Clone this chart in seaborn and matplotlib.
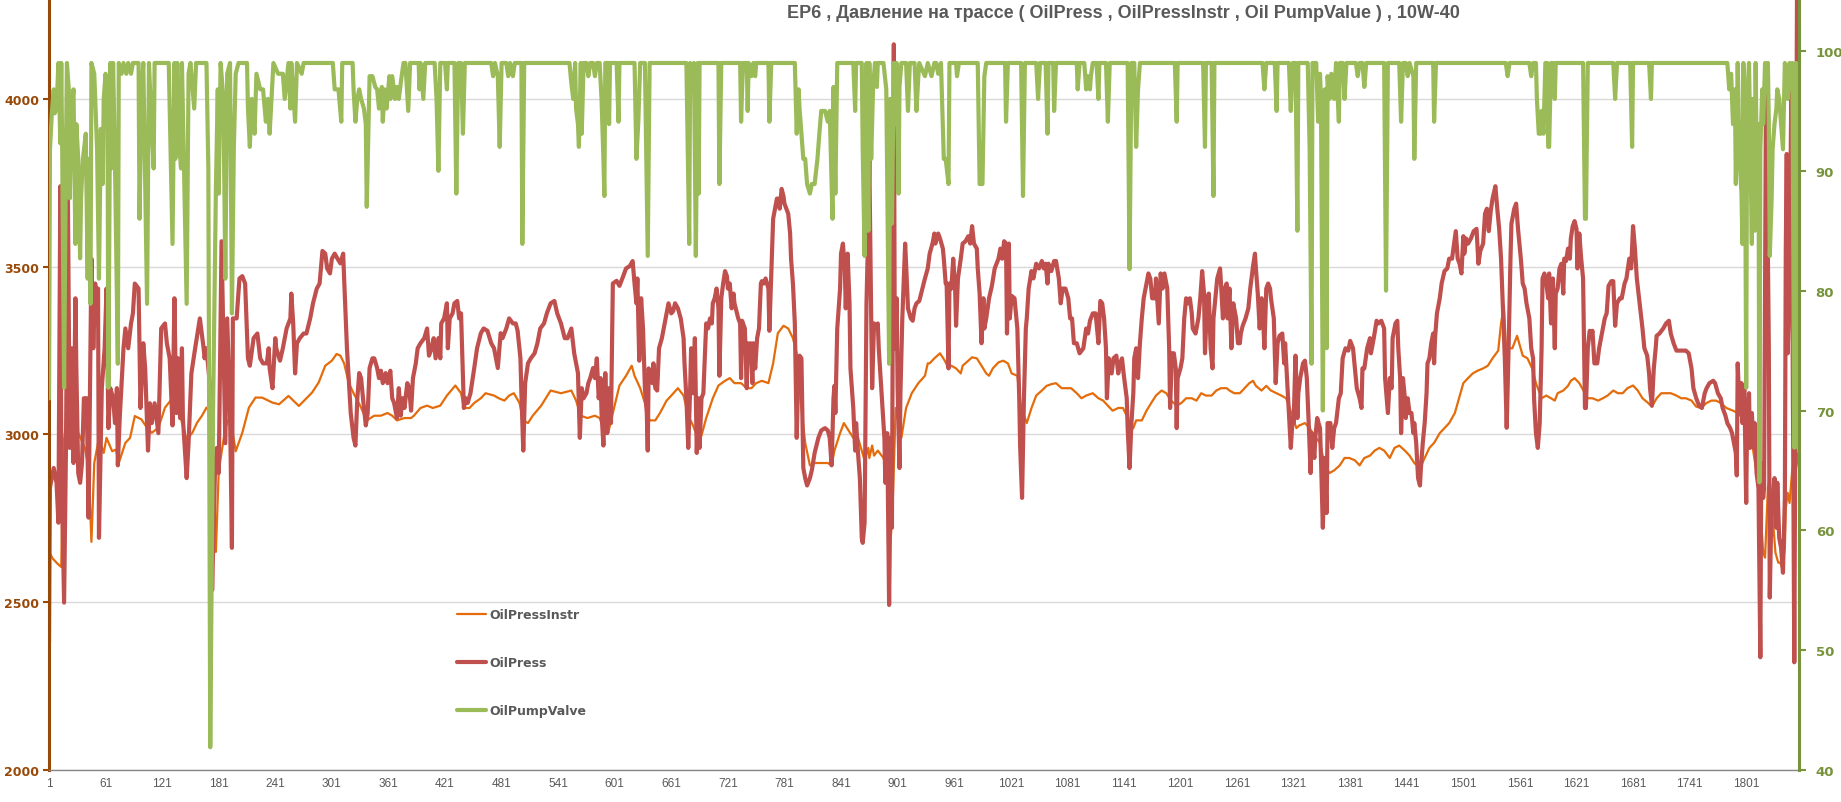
import pandas as pd
import matplotlib
matplotlib.use("Agg")
import matplotlib.pyplot as plt
import seaborn as sns

title = "EP6 , Давление на трассе ( OilPress , OilPressInstr , Oil PumpValue ) , 10W-40"
x_ticks = list(range(1, 1802, 60))
left_ticks = [2000, 2500, 3000, 3500, 4000]
right_ticks = [40, 50, 60, 70, 80, 90, 100]

# (sample no, value)
instr = [
    (1,2650),(5,2630),(10,2615),(14,2605),(16,2960),(20,3060),(27,3040),(32,3005),(39,2960),(43,2900),(46,2680),(49,2915),
    (54,2990),(59,2945),(62,2990),(68,2950),(72,2955),(75,2915),(82,2975),(87,2990),(92,3055),(99,3045),(105,3020),(110,3005),
    (117,3020),(124,3080),(131,3105),(138,3080),(142,3035),(147,2985),(153,3005),(158,3035),(163,3055),(168,3080),(174,3060),
    (178,2650),(181,2890),(188,3020),(193,3055),(199,2950),(206,3005),(213,3080),(220,3110),(227,3110),(238,3095),(245,3090),
    (255,3115),(266,3085),(273,3105),(280,3125),(287,3155),(294,3205),(301,3220),(306,3240),
    (310,3235),(314,3212),(319,3153),(324,3123),(331,3086),(338,3042),(346,3056),(353,3056),(360,3064),(365,3056),(370,3042),
    (378,3049),(385,3049),(388,3056),(395,3079),(402,3086),(408,3079),(416,3086),(423,3116),(432,3146),(438,3123),(441,3079),
    (447,3079),(452,3094),(459,3108),(464,3123),(473,3116),(478,3108),(484,3101),(489,3116),(494,3123),(500,3094),(504,3042),
    (509,3034),(514,3056),(523,3086),(533,3131),(544,3123),(555,3131),(560,3101),(565,3056),(572,3049),(580,3056),(585,3049),
    (590,3012),(594,3004),(599,3064),(606,3146),(613,3175),(619,3205),
    (622,3175),(628,3138),(633,3094),(638,3042),(644,3042),(649,3064),(656,3101),(661,3116),(668,3138),(674,3116),(679,3056),
    (684,3027),(689,2990),(693,2997),(698,3049),(705,3108),(711,3146),(718,3160),(723,3168),(728,3153),(735,3153),(741,3138),
    (746,3138),(751,3153),(757,3160),(764,3153),(769,3212),(774,3302),(780,3324),(785,3316),(790,3287),(794,3242),(796,3168),
    (799,3079),(803,2975),(808,2908),(813,2915),(820,2915),(827,2915),(831,2908),(834,2952),(840,3004),(844,3034),(849,3012),
    (854,2990),(859,2990),(863,2952),(866,2923),(870,2960),(871,2930),(874,2967),(876,2937),(880,2952),(886,2930),(891,2885),
    (894,2700),(896,2811),(899,3079),(902,3034),(905,2990),(910,3079),(916,3123),(923,3153),(930,3175),(933,3212),
    (935,3212),(940,3227),(946,3242),(951,3220),(955,3197),(958,3205),(963,3197),(968,3182),(970,3205),(976,3220),(980,3230),
    (985,3227),(990,3205),(995,3182),(998,3175),(1002,3197),(1008,3215),(1013,3220),(1018,3212),(1022,3182),(1028,3175),
    (1032,3079),(1038,3034),(1043,3079),(1048,3116),(1054,3131),(1059,3145),(1064,3150),(1069,3153),(1075,3138),(1080,3138),
    (1085,3138),(1091,3123),(1096,3108),(1101,3116),(1108,3123),(1114,3108),(1119,3101),(1124,3086),(1129,3071),(1135,3079),
    (1140,3079),(1144,3056),(1147,3012),(1151,3019),(1154,3042),(1160,3042),(1165,3071),(1170,3094),(1175,3116),(1181,3131),
    (1186,3123),(1191,3101),(1197,3086),(1202,3094),(1207,3108),(1213,3108),(1218,3101),(1223,3123),(1228,3116),(1234,3116),
    (1239,3131),(1244,3138),(1250,3138),
    (1253,3131),(1258,3123),(1264,3123),(1269,3138),(1274,3153),(1278,3160),(1281,3145),(1287,3131),(1292,3145),(1297,3131),
    (1303,3123),(1308,3116),(1313,3108),(1317,3079),(1320,3049),(1324,3019),(1327,3027),(1333,3034),(1338,3019),(1343,2997),
    (1349,2975),(1354,2908),(1359,2885),(1364,2893),(1370,2908),(1375,2930),(1380,2930),(1386,2923),(1391,2908),(1396,2930),
    (1402,2937),(1407,2952),(1412,2960),(1417,2952),(1423,2930),(1428,2960),(1433,2967),(1439,2952),(1444,2937),(1449,2915),
    (1455,2900),(1460,2930),(1465,2960),(1470,2975),(1476,3004),(1481,3019),(1486,3034),(1492,3064),(1495,3094),(1501,3153),
    (1506,3168),(1511,3182),(1516,3190),(1522,3197),(1527,3205),(1532,3227),(1538,3250),(1541,3331),(1544,3383),(1546,3272),
    (1550,3257),(1553,3257),(1558,3294),
    (1564,3235),(1569,3227),(1574,3197),(1578,3153),(1584,3108),(1589,3116),(1594,3108),(1598,3101),(1601,3123),(1607,3131),
    (1612,3145),(1615,3160),(1619,3168),(1624,3153),(1630,3123),(1633,3108),(1638,3108),(1644,3101),(1649,3108),(1654,3116),
    (1660,3131),(1665,3123),(1670,3123),(1675,3138),(1681,3146),(1686,3131),(1691,3108),(1697,3094),(1701,3083),(1706,3108),
    (1711,3123),(1716,3123),(1721,3123),(1727,3116),(1732,3108),(1737,3108),(1743,3101),(1748,3083),(1753,3079),(1759,3094),
    (1764,3101),(1769,3101),(1774,3094),(1780,3079),(1787,3071),(1792,3064),(1797,3049),(1803,3019),(1808,2960),(1812,2885),
    (1816,2781),(1819,2648),(1821,2633),(1824,2841),(1826,2870),(1828,2811),(1830,2722),(1832,2648),(1835,2618),(1837,2618),
    (1839,2603),(1842,2662),(1843,2781),(1845,2826),(1847,2796),(1850,2900),(1852,2915),(1854,2900),(1857,2960),
]

press = [
    (1,2380),(2,2841),(6,2900),(9,2856),(11,2737),(13,3740),(14,2960),(17,2499),(19,2960),(21,3725),(23,2960),(25,3257),
    (27,2915),(29,3406),(30,3197),(32,2885),(34,2856),(36,2915),(38,3108),(41,3108),(43,2752),(46,3524),(48,3257),(50,3450),
    (52,3346),(53,3435),(54,2692),(57,3138),(60,3257),(62,3435),(64,3019),(66,3138),(69,3108),(71,3034),(73,3138),(74,2908),
    (76,3049),(80,3257),(82,3316),(85,3257),(88,3331),(90,3361),(92,3450),(96,3435),(98,3079),(101,3272),(103,3197),(106,2952),
    (108,3093),(110,3034),(113,3093),(117,3004),(120,3316),(124,3331),(126,3272),(129,3227),(132,3027),(134,3406),(136,3064),
    (138,3227),(140,3049),(142,3257),(143,3049),(147,2870),(149,2974),(152,3182),(156,3257),(161,3346),(165,3257),(166,3227),
    (168,3257),(172,3138),(174,2536),(177,2885),(179,2960),(181,2885),(184,3576),(188,2974),(190,3346),(193,3064),(195,2662),
    (196,3346),(200,3346),(203,3465),(206,3472),(209,3450),(212,3227),(214,3205),(218,3287),(222,3301),(225,3227),(228,3212),
    (232,3212),(234,3257),(235,3197),(238,3138),(241,3287),(242,3257),(246,3220),(249,3257),(253,3316),(257,3346),(258,3420),
    (260,3331),(262,3182),(264,3272),(267,3287),(271,3301),(274,3301),(278,3346),(281,3391),(285,3435),(288,3450),(291,3547),
    (294,3539),(296,3495),(299,3480),(301,3524),(304,3539),(307,3524),
    (310,3510),(313,3539),(314,3465),(317,3257),(321,3064),(324,2990),(326,2967),(328,3108),(330,3183),(332,3168),(334,3108),
    (337,3027),(339,3064),(341,3198),(344,3227),(346,3227),(349,3198),(351,3168),(353,3190),(355,3153),(358,3183),(360,3153),
    (363,3190),(365,3108),(367,3094),(370,3049),(372,3138),(374,3056),(376,3108),(378,3079),(381,3153),(383,3138),(385,3071),
    (387,3168),(390,3212),(392,3257),(395,3272),(399,3287),(402,3316),(404,3235),(406,3250),(409,3287),(411,3227),(414,3287),
    (416,3227),(417,3331),(420,3346),(423,3391),(424,3257),(426,3346),(429,3361),(431,3391),(434,3398),(436,3346),(438,3361),
    (441,3079),(443,3108),(445,3094),(448,3123),(452,3198),(455,3257),(459,3302),(462,3316),(466,3309),(470,3272),(473,3257),
    (477,3198),(480,3302),(482,3287),(486,3316),(489,3346),(493,3331),(496,3331),(498,3309),(501,3227),(502,3123),(504,2952),
    (506,3153),(509,3212),(512,3227),(516,3242),(519,3272),(522,3316),(526,3331),(529,3361),(533,3391),(537,3398),(540,3361),
    (544,3331),(548,3287),(551,3287),(555,3316),(558,3242),(562,3183),(564,2990),(566,3138),(568,3108),(571,3123),(573,3153),
    (575,3168),(578,3198),(580,3168),(582,3227),(584,3108),(586,3168),(587,3064),(589,2967),(591,3183),(593,3004),(595,3138),
    (597,3034),(599,3450),(603,3458),(606,3443),(610,3472),(613,3495),(617,3502),(620,3517),
    (622,3450),(624,3391),(625,3465),(627,3220),(629,3406),(631,3316),(633,3138),(635,3064),(636,2952),(637,3197),(639,3168),
    (641,3153),(642,3212),(644,3138),(646,3131),(648,3257),(651,3287),(653,3316),(656,3361),(658,3391),(661,3361),(663,3368),
    (665,3391),(668,3376),(671,3346),(674,3287),(675,3212),(677,3108),(679,2960),(681,3138),(682,3257),(684,3123),(686,3287),
    (688,2945),(690,3108),(691,2960),(693,3108),(695,3123),(697,3257),(698,3331),(700,3316),(702,3346),(704,3331),(705,3391),
    (707,3406),(709,3435),(711,3376),(712,3175),(714,3406),(716,3450),(718,3487),(720,3472),(721,3435),(723,3450),(725,3376),
    (727,3420),(728,3391),(732,3346),(734,3331),(735,3168),(736,3339),(739,3316),(741,3138),(742,3272),(744,3227),(745,3272),
    (747,3153),(748,3272),(750,3197),(752,3287),(754,3316),(756,3450),(757,3457),(759,3450),(761,3465),(764,3435),(765,3309),
    (767,3480),(769,3643),(771,3673),(773,3703),(774,3703),(776,3673),(778,3732),(780,3710),(781,3688),(783,3673),(785,3658),
    (787,3599),(788,3524),(790,3450),(792,3331),(794,2990),(796,3212),(797,3235),(799,3227),(801,2900),(803,2870),(805,2848),
    (808,2870),(810,2893),(813,2945),(817,2990),(820,3012),(824,3019),(827,3012),(829,2990),(831,2908),(833,3108),(834,3145),
    (835,3064),(837,3316),(840,3435),(841,3539),(843,3569),(845,3495),(846,3376),(848,3539),(850,3391),(851,3197),(854,3079),
    (856,2952),(857,3034),(859,2945),(861,2870),(863,2692),(864,2677),(866,2737),(868,3391),(870,3628),(871,3822),(873,3346),
    (874,3138),(876,3331),(877,3316),(880,3331),(881,3257),(883,3168),(885,3079),(887,2990),(888,2856),(890,3004),(892,2492),
    (894,2990),(895,2722),(897,4163),(898,3257),(900,3406),(901,3138),(903,2900),(904,3123),(906,3346),(909,3569),(910,3509),
    (912,3376),(915,3346),(917,3339),(919,3376),(921,3391),(924,3398),(926,3420),(930,3465),(933,3495),(935,3539),(938,3569),
    (940,3599),
    (941,3569),(944,3599),(946,3584),(949,3554),(950,3524),(952,3450),(953,3450),(955,3197),(956,3450),(958,3435),(960,3524),
    (962,3435),(963,3324),(965,3465),(968,3524),(970,3569),(973,3576),(976,3591),(978,3569),(980,3621),(982,3569),(985,3554),
    (986,3495),(988,3420),(990,3272),(992,3406),(993,3316),(995,3346),(998,3406),(1001,3443),(1004,3495),(1008,3524),
    (1010,3554),(1012,3524),(1014,3576),(1016,3569),(1017,3301),(1019,3569),(1020,3346),(1022,3413),(1025,3406),(1028,3316),
    (1030,3108),(1031,2960),(1033,2811),(1035,3108),(1037,3316),(1038,3346),(1040,3435),(1043,3487),(1045,3465),(1048,3509),
    (1051,3495),(1054,3517),(1056,3495),(1058,3509),(1060,3450),(1061,3509),(1064,3487),(1067,3517),(1069,3517),(1072,3465),
    (1074,3391),(1076,3435),(1079,3435),(1082,3406),(1084,3346),(1086,3346),(1088,3272),(1091,3272),(1094,3242),(1098,3257),
    (1101,3316),(1103,3301),(1105,3339),(1108,3361),(1111,3361),(1114,3272),(1116,3398),(1118,3391),(1120,3346),(1122,3257),
    (1123,3108),(1125,3227),(1128,3182),(1130,3227),(1133,3235),(1135,3182),(1137,3212),(1139,3227),(1141,3175),(1144,3108),
    (1145,3019),(1147,2900),(1149,3034),(1151,3123),(1152,3227),(1154,3257),(1156,3168),(1158,3272),(1160,3346),(1162,3406),
    (1165,3450),(1167,3480),(1169,3465),(1171,3406),(1174,3406),(1175,3465),(1178,3331),(1180,3480),(1182,3435),(1184,3480),
    (1187,3435),(1189,3257),(1190,3079),(1192,3242),(1194,3242),(1196,3197),(1197,3019),(1198,3168),(1201,3197),(1203,3227),
    (1205,3346),(1207,3406),(1209,3391),(1211,3406),(1213,3361),(1214,3316),(1217,3301),(1220,3346),(1222,3406),(1224,3487),
    (1226,3420),(1227,3242),(1229,3376),(1231,3420),(1233,3257),(1235,3197),(1236,3346),(1238,3406),(1240,3465),(1243,3495),
    (1244,3450),(1246,3346),(1248,3435),(1250,3450),(1251,3346),(1253,3435),
    (1255,3257),(1257,3391),(1258,3376),(1260,3346),(1262,3272),(1264,3272),(1265,3301),(1267,3324),(1270,3346),(1273,3376),
    (1275,3435),(1278,3502),(1280,3539),(1281,3495),(1283,3420),(1285,3316),(1287,3406),(1288,3391),(1290,3257),(1292,3435),
    (1294,3450),(1296,3435),(1297,3406),(1300,3346),(1302,3153),(1304,3272),(1306,3294),(1309,3301),(1311,3212),(1312,3272),
    (1314,3168),(1316,3064),(1318,2960),(1320,3049),(1321,3034),(1323,3235),(1325,3049),(1326,3123),(1328,3168),(1331,3212),
    (1333,3220),(1335,3168),(1337,3034),(1339,2885),(1340,3004),(1343,2930),(1344,2990),(1346,3049),(1349,3019),(1350,2930),
    (1352,2722),(1354,2930),(1356,2766),(1357,3034),(1360,3034),(1362,2960),(1364,3019),(1366,3034),(1369,3108),(1371,3123),
    (1373,3227),(1376,3257),(1379,3250),(1381,3279),(1384,3257),(1386,3197),(1388,3138),(1391,3108),(1393,3079),(1394,3197),
    (1396,3197),(1399,3257),(1402,3287),(1403,3242),(1406,3287),(1409,3339),(1411,3331),(1414,3339),(1417,3316),(1418,3168),
    (1421,3064),(1423,3168),(1425,3138),(1426,3287),(1429,3331),(1431,3339),(1432,3257),(1434,3168),(1435,3004),(1437,3168),
    (1439,3108),(1440,3049),(1442,3108),(1444,3064),(1446,3064),(1448,3004),(1449,3034),(1451,2975),(1453,2870),(1455,2848),
    (1456,2900),(1458,2975),(1460,3034),(1462,3123),(1463,3212),(1465,3227),(1467,3272),(1469,3301),(1470,3212),(1471,3287),
    (1473,3361),(1476,3406),(1478,3450),(1481,3487),(1484,3495),(1486,3524),(1489,3524),(1492,3584),(1493,3606),(1495,3524),
    (1497,3509),(1499,3480),(1501,3591),(1502,3539),(1504,3584),(1506,3569),(1509,3584),(1512,3606),(1515,3613),(1517,3509),
    (1519,3547),(1522,3569),(1524,3658),(1526,3673),(1528,3606),(1530,3665),(1532,3703),(1535,3740),(1537,3673),(1539,3613),
    (1541,3524),(1543,3376),(1545,3227),(1547,3020),(1549,3257),(1551,3524),(1552,3628),(1555,3673),(1557,3688),(1559,3613),
    (1562,3524),(1564,3450),(1566,3435),(1568,3391),(1571,3346),(1573,3257),(1575,3227),(1576,3108),(1578,3004),(1580,2960),
    (1582,3034),(1584,3257),(1585,3465),(1587,3480),(1589,3450),(1591,3406),(1592,3480),(1594,3331),(1596,3465),(1598,3257),
    (1599,3420),(1601,3435),(1603,3495),(1605,3509),(1607,3420),(1608,3524),(1610,3517),(1612,3554),(1614,3524),(1615,3584),
    (1617,3621),(1619,3636),(1621,3613),(1622,3495),(1624,3599),(1626,3524),(1628,3465),(1630,3079),(1631,3079),(1633,3257),
    (1635,3309),(1637,3301),(1638,3309),(1640,3212),(1643,3212),(1645,3257),(1648,3301),(1651,3346),(1653,3361),(1655,3443),
    (1658,3457),(1660,3457),(1662,3324),(1664,3391),(1667,3406),(1669,3406),(1672,3450),(1674,3465),(1677,3524),(1679,3495),
    (1681,3621),(1683,3554),(1685,3465),(1688,3391),(1691,3316),(1693,3257),(1696,3235),(1698,3182),(1699,3138),(1701,3086),
    (1703,3197),(1705,3257),(1706,3294),(1709,3301),(1713,3316),(1716,3331),(1719,3339),(1721,3301),(1724,3272),(1727,3250),
    (1730,3250),(1734,3250),(1737,3250),(1740,3242),(1743,3197),(1745,3138),(1748,3108),(1751,3086),(1754,3079),(1757,3123),
    (1759,3138),(1762,3153),(1766,3160),(1768,3153),(1771,3123),(1774,3108),(1776,3079),(1779,3056),(1781,3034),(1784,3019),
    (1786,3004),(1788,2975),(1790,2945),(1791,2878),(1792,3212),(1794,3064),(1796,3153),(1797,3034),(1799,3138),(1801,2796),
    (1802,3049),(1804,3123),(1805,2960),(1807,3064),(1809,2960),(1810,3034),(1812,2885),(1814,2841),(1816,2336),(1817,2915),
    (1819,2811),(1820,2841),(1822,4037),(1824,3539),(1825,3257),(1826,2514),(1828,2811),(1829,2766),(1831,2870),(1833,2722),
    (1834,2856),(1836,2692),(1838,2662),(1840,2588),(1842,2811),(1843,3554),(1844,3836),(1845,3242),(1847,3495),(1849,4059),
    (1850,3406),(1852,2321),(1853,2960),(1855,4400),
]

valve = [
    (1,71.0),(2,91.8),(4,94.8),(6,96.8),(7,94.8),(9,95.2),(11,99),(13,92.3),(14,99),(15,91.8),(17,71.9),(19,91.8),(20,99),
    (22,96.8),(23,87.7),(25,95.2),(27,96.8),(29,83.9),(30,93.9),(32,91.0),(34,82.7),(35,87.7),(37,91.0),(40,93.1),(42,81.0),
    (43,91.0),(45,78.9),(46,99),(49,98.1),(50,96.0),(52,91.8),(54,81.0),(56,93.5),(58,88.9),(59,96.0),(61,98.1),(63,96.0),
    (64,71.9),(66,99),(67,90.2),(69,99),(71,90.6),(74,73.9),(75,99),(78,98.1),(80,99),(83,98.1),(85,99),(88,98.1),(90,99),
    (96,99),(97,86.0),(99,96.0),(101,99),(105,78.9),(107,99),(109,95.2),(112,90.2),(113,99),(128,99),(132,83.9),(134,99),
    (135,91.0),(137,99),(139,92.3),(141,90.2),(142,99),(147,78.9),(149,98.1),(151,99),(155,95.2),(157,99),(168,99),(170,90.2),
    (172,41.9),(175,70.0),(178,88.5),(180,96.8),(181,88.1),(183,99),(186,96.0),(188,81.0),(190,98.1),(193,99),(195,78.1),
    (197,91.8),(199,98.1),(202,99),(211,99),(212,95.2),(214,92.0),(216,96.0),(219,93.1),(221,98.1),(225,96.8),(228,96.8),
    (231,94.1),(233,96.0),(235,93.1),(239,99),(244,98.1),(249,98.1),(251,96.0),(255,99),(257,95.2),(258,99),(262,94.1),
    (264,99),(269,98.1),(271,99),(302,99),(304,96.8),(308,96.8),(311,94.1),(312,99),
    (323,99),(324,96.8),(326,94.1),(328,96.0),(330,96.8),(332,96.0),(335,95.2),(337,93.9),(338,87.0),(341,97.9),(344,97.9),
    (347,97.0),(349,96.8),(351,95.2),(354,97.0),(355,94.1),(357,96.8),(359,95.2),(362,97.9),(363,96.0),(365,97.9),(368,96.0),
    (370,97.0),(372,96.0),(375,97.9),(377,99),(379,99),(382,95.0),(384,99),(393,99),(394,96.8),(395,99),(398,96.0),(400,99),
    (410,99),(412,96.0),(414,90.0),(416,99),(421,99),(423,96.8),(424,99),(431,99),(433,88.1),(435,99),(438,99),(440,93.1),
    (442,99),(470,99),(472,97.9),(474,99),(477,97.9),(479,92.0),(481,99),(486,99),(488,97.9),(490,99),(493,97.9),(495,99),
    (502,99),(503,83.9),(505,99),(553,99),(555,97.3),(557,96.0),(559,99),(560,95.2),(562,93.9),(563,92.0),(565,99),(566,93.1),
    (568,99),(571,99),(573,97.9),(575,99),(578,99),(580,97.9),(582,99),(585,99),(587,96.0),(589,91.0),(590,87.9),(591,99),
    (594,99),(595,93.9),(596,99),(603,99),(605,94.1),(606,99),(619,99),
    (622,99),(624,91.0),(626,94.1),(628,99),(633,99),(636,82.9),(638,99),(677,99),(680,83.9),(681,99),(683,97.9),(685,99),
    (687,82.9),(689,99),(690,88.1),(691,99),(711,99),(712,88.9),(714,99),(734,99),(735,94.1),(737,99),(741,99),(742,95.0),
    (743,99),(746,97.9),(748,99),(750,97.9),(751,99),(764,99),(765,94.1),(767,99),(792,99),(794,93.1),(796,96.8),(797,95.2),
    (801,91.0),(803,91.0),(805,88.9),(808,88.1),(810,88.9),(813,88.9),(816,91.0),(818,93.1),(820,95.0),(824,95.0),(827,94.1),
    (829,95.0),(832,86.0),(833,97.0),(835,88.1),(837,99),(854,99),(856,95.0),(857,99),(863,99),(864,91.8),(866,82.9),(868,99),
    (870,85.0),(871,99),(873,91.0),(875,97.0),(877,99),(879,97.0),(880,99),(886,99),(889,96.8),(892,73.9),(893,96.0),
    (895,85.6),(897,99),(899,93.9),(900,99),(902,88.1),(903,97.0),(905,99),(910,99),(912,95.0),(914,99),(919,99),(921,95.0),
    (923,97.9),(924,99),(930,97.9),(933,99),(937,97.9),(940,99),
    (942,99),(944,98.1),(947,99),(950,91.0),(952,91.0),(955,88.9),(956,99),(963,99),(964,97.9),(966,99),(986,99),(988,88.9),
    (991,88.9),(993,97.9),(995,99),(1015,99),(1016,94.1),(1018,99),(1032,99),(1034,87.9),(1036,99),(1048,99),(1050,96.0),
    (1052,99),(1058,99),(1060,93.1),(1061,99),(1066,99),(1067,95.0),(1069,99),(1091,99),(1092,96.8),(1094,99),(1099,99),
    (1101,96.8),(1103,97.9),(1105,96.8),(1106,97.9),(1108,99),(1112,99),(1114,96.0),(1115,99),(1122,99),(1124,94.1),(1126,99),
    (1145,99),(1147,81.8),(1149,99),(1152,99),(1154,92.0),(1156,96.8),(1158,99),(1195,99),(1197,94.1),(1198,99),(1225,99),
    (1227,92.0),(1228,99),(1234,99),(1236,87.9),(1237,99),
    (1288,99),(1290,96.8),(1292,99),(1301,99),(1303,95.0),(1304,99),(1316,99),(1318,95.0),(1320,99),(1323,99),(1325,85.0),
    (1326,99),(1336,99),(1338,91.8),(1340,73.9),(1341,99),(1345,99),(1347,94.1),(1349,98.1),(1350,96.0),(1352,70.0),(1354,96.8),
    (1356,75.2),(1357,97.9),(1359,96.0),(1361,98.1),(1363,96.8),(1364,96.0),(1366,99),(1369,94.1),(1370,99),(1373,99),
    (1375,96.0),(1377,99),(1387,99),(1389,97.9),(1391,99),(1394,99),(1396,97.0),(1398,99),(1417,99),(1419,80.0),(1421,99),
    (1433,99),(1435,94.1),(1437,99),(1440,99),(1442,97.9),(1444,99),(1448,97.9),(1449,91.0),(1451,99),(1469,99),(1470,94.1),
    (1472,99),(1546,99),(1548,97.9),(1550,99),
    (1571,99),(1573,97.9),(1575,99),(1578,99),(1579,96.0),(1581,93.1),(1583,93.1),(1584,95.0),(1586,93.1),(1588,99),(1590,99),
    (1591,92.0),(1592,92.0),(1594,99),(1596,99),(1598,96.0),(1599,99),(1628,99),(1630,86.0),(1631,86.0),(1633,99),(1660,99),
    (1662,96.0),(1664,99),(1678,99),(1680,92.0),(1681,99),(1698,99),(1700,96.0),(1701,99),(1781,99),(1783,96.8),(1785,98.1),
    (1787,93.9),(1789,96.8),(1790,88.9),(1792,99),(1794,91.0),(1796,88.1),(1797,83.9),(1798,99),(1800,88.9),(1801,71.9),
    (1802,96.0),(1804,99),(1805,93.9),(1807,83.9),(1808,96.0),(1810,85.0),(1811,99),(1812,91.8),(1814,93.9),(1815,64.0),
    (1816,91.8),(1818,96.8),(1819,93.9),(1821,99),(1822,96.8),(1824,99),(1825,93.9),(1826,82.9),(1828,87.7),(1829,91.8),
    (1831,93.9),(1833,95.2),(1834,96.8),(1836,96.0),(1838,93.9),(1840,91.8),(1842,99),(1843,98.1),(1845,96.0),(1847,99),
    (1849,96.8),(1850,99),(1852,66.9),(1854,99),(1856,66.9),(1857,66.9),
]

df_instr = pd.DataFrame(instr, columns=["n", "v"])
df_press = pd.DataFrame(press, columns=["n", "v"])
df_valve = pd.DataFrame(valve, columns=["n", "v"])

sns.set_style("white")
plt.rcParams["font.family"] = ["DejaVu Sans"]

W, H = 1841, 803
fig = plt.figure(figsize=(W / 100, H / 100), dpi=100)
ax = fig.add_axes([49 / W, 1 - 771 / H, (1799 - 49) / W, 771 / H])
ax2 = ax.twinx()

sns.lineplot(data=df_instr, x="n", y="v", ax=ax, color="#E46C0A", lw=1.6,
             estimator=None, sort=False, label="OilPressInstr")
sns.lineplot(data=df_press, x="n", y="v", ax=ax, color="#C0504D", lw=3.0,
             estimator=None, sort=False, label="OilPress")
sns.lineplot(data=df_valve, x="n", y="v", ax=ax2, color="#9BBB59", lw=3.0,
             estimator=None, sort=False, label="OilPumpValve")

ax.set_xlim(1, 1857)
ax.set_ylim(2000, 4298)
ax2.set_ylim(40, 104.34)
ax.set_xlabel("")
ax.set_ylabel("")
ax2.set_ylabel("")

ax.set_xticks(x_ticks)
ax.set_xticklabels([str(t) for t in x_ticks], family=["Liberation Sans", "DejaVu Sans"],
                   fontsize=8.5, color="#595959")
ax.set_yticks(left_ticks)
ax.set_yticklabels([str(t) for t in left_ticks], fontsize=9, fontweight="bold", color="#984807")
ax2.set_yticks(right_ticks)
ax2.set_yticklabels([str(t) for t in right_ticks], fontsize=9.5, fontweight="bold", color="#77933C")

ax.yaxis.grid(True, color="#D9D9D9", lw=1)
ax.xaxis.grid(False)
ax.set_axisbelow(True)

for s in ["top", "right"]:
    ax.spines[s].set_visible(False)
for s in ["top", "left", "bottom"]:
    ax2.spines[s].set_visible(False)
ax.spines["left"].set_color("#984807")
ax.spines["left"].set_linewidth(2.2)
ax.spines["bottom"].set_color("#868686")
ax.spines["bottom"].set_linewidth(1)
ax2.spines["right"].set_color("#77933C")
ax2.spines["right"].set_linewidth(2.2)

ax.tick_params(axis="x", direction="in", length=5, width=1, color="#868686", pad=5)
ax.tick_params(axis="y", direction="out", length=4, width=1.5, color="#984807", pad=3)
ax2.tick_params(axis="y", direction="out", length=5, width=1.5, color="#77933C", pad=7)

h1, l1 = ax.get_legend_handles_labels()
h2, l2 = ax2.get_legend_handles_labels()
if ax.get_legend() is not None:
    ax.get_legend().remove()
leg = ax2.legend(h1 + h2, l1 + l2, loc="upper left",
                 bbox_to_anchor=(457 / W, 1 - 609 / H), bbox_transform=fig.transFigure,
                 frameon=False, labelspacing=2.8, handlelength=2.3, handletextpad=0.25,
                 borderpad=0, borderaxespad=0, prop={"size": 9, "weight": "bold"})
for t in leg.get_texts():
    t.set_color("#595959")

fig.text(1123 / W, 1 - 14 / H, title, ha="center", va="center", fontsize=13, fontweight="bold",
         color="#595959", family=["Liberation Sans", "DejaVu Sans"])

fig.savefig("out.png", dpi=100)
